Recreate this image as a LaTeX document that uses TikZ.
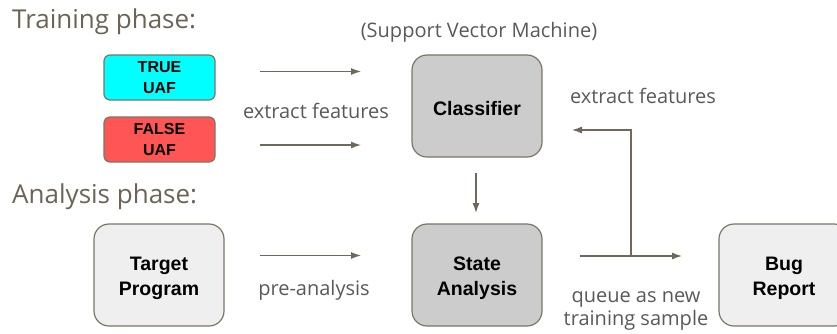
\documentclass[tikz,border=0pt]{standalone}
\usepackage{fontspec}
\setmainfont{Open Sans}
\newfontfamily\boxfont{Liberation Sans}
\usetikzlibrary{arrows.meta}
\definecolor{headc}{HTML}{6B6457}
\definecolor{labc}{HTML}{595959}
\definecolor{arrc}{HTML}{70685A}
\definecolor{bordc}{HTML}{7D7565}
\definecolor{cyanf}{HTML}{00FFFF}
\definecolor{redf}{HTML}{FF5555}
\definecolor{grayf}{HTML}{CCCCCC}
\definecolor{lightf}{HTML}{EFEFEF}
\tikzset{
  uafbox/.style={draw=bordc, line width=1.2pt, rounded corners=6pt, minimum width=111pt, minimum height=45pt,
    inner sep=0pt, align=center, font=\boxfont\bfseries\fontsize{16}{20.5}\selectfont},
  bigbox/.style={draw=bordc, line width=1.2pt, rounded corners=15pt, minimum width=130pt, minimum height=102pt,
    inner sep=0pt},
  boxtext/.style={inner sep=0pt, align=center, yshift=-3pt, font=\boxfont\bfseries\fontsize{19.5}{25}\selectfont},
  flow/.style={draw=arrc, line width=1.2pt, -{Latex[length=10pt,width=7pt]}},
  lab/.style={text=labc, font=\fontsize{20}{23}\selectfont, inner sep=0pt},
  head/.style={text=headc, font=\fontsize{26}{30}\selectfont, inner sep=0pt, anchor=base west},
}
\begin{document}
\begin{tikzpicture}[x=1pt,y=-1pt]
\useasboundingbox (0,0) rectangle (837,333);
\clip (0,0) rectangle (837,333);
\node[head] (thead) at (12,28) {Training phase:};
\node[head] (ahead) at (12,203) {Analysis phase:};
\node[lab, anchor=base] (svm) at (479,37) {(Support Vector Machine)};

\node[uafbox, fill=cyanf] (true) at (159.5,77.5) {TRUE\\UAF};
\node[uafbox, fill=redf] (false) at (159.5,139.5) {FALSE\\UAF};
\node[bigbox, fill=grayf, label={[boxtext, name=clft]center:Classifier}] (clf) at (477,106) {};
\node[bigbox, fill=lightf, label={[boxtext, name=targett]center:Target\\Program}] (target) at (159,275) {};
\node[bigbox, fill=grayf, label={[boxtext, name=statet]center:State\\Analysis}] (state) at (477,275) {};
\node[bigbox, fill=lightf, label={[boxtext, name=bugt]center:Bug\\Report}] (bug) at (784,275) {};

\coordinate (a1s) at (260,71.5);  \coordinate (a1e) at (361,71.5);
\coordinate (a2s) at (260,145);   \coordinate (a2e) at (361,145);
\coordinate (a3s) at (260,255.5); \coordinate (a3e) at (361,255.5);
\coordinate (a4s) at (580,256);   \coordinate (a4e) at (682,256);
\coordinate (dns) at (476,173);   \coordinate (dne) at (476,213);
\coordinate (fbs) at (631,256);   \coordinate (fbc) at (631,130);
\coordinate (fbe) at (572,130);

\draw[flow] (a1s) -- (a1e);
\draw[flow] (a2s) -- (a2e);
\draw[flow] (a3s) -- (a3e);
\draw[flow] (a4s) -- (a4e);
\draw[flow] (dns) -- (dne);
\draw[flow] (fbs) -- (fbc) -- (fbe);

\node[lab, anchor=base] (ef1) at (316,118) {extract features};
\node[lab, anchor=base] (ef2) at (643,103) {extract features};
\node[lab, anchor=base] (pre) at (314,295) {pre-analysis};
\node[lab, anchor=base] (q1) at (636,302) {queue as new};
\node[lab, anchor=base] (q2) at (636,325) {training sample};
\end{tikzpicture}
\end{document}
